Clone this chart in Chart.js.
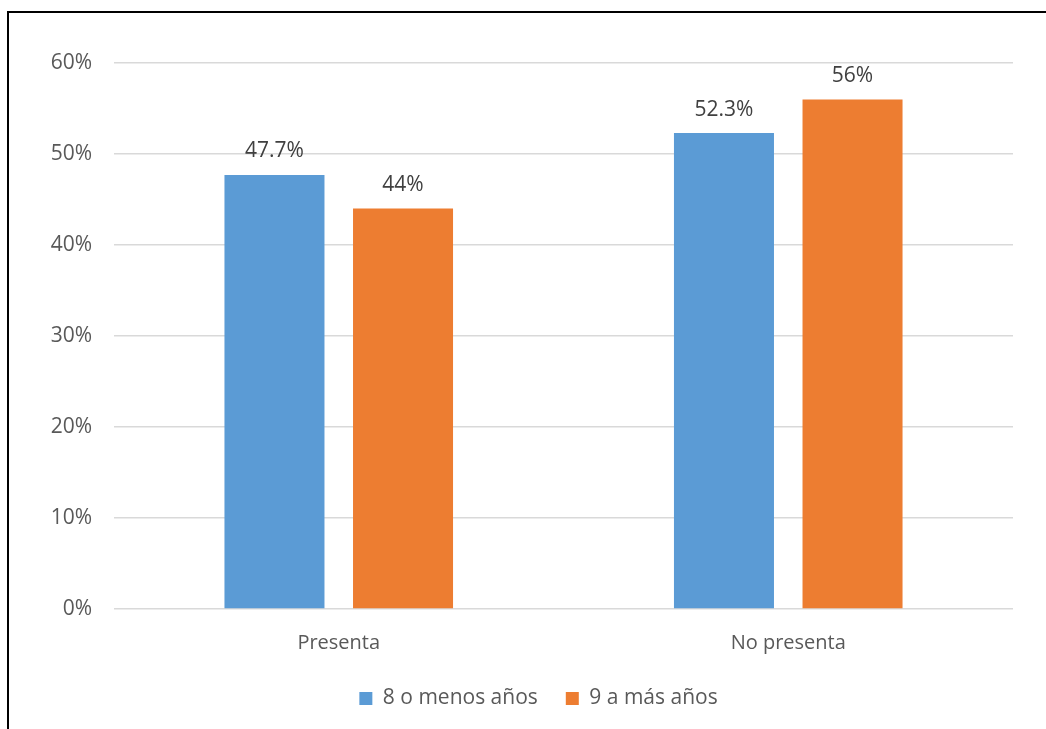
<!DOCTYPE html>
<html>
<head>
<meta charset="utf-8">
<script src="https://cdn.jsdelivr.net/npm/chart.js@4/dist/chart.umd.min.js"></script>
<style>
  html, body { margin: 0; padding: 0; background: #fff; }
  #wrap { position: relative; width: 1046px; height: 729px; overflow: hidden; }
  #frame { position: absolute; left: 7px; top: 11px; width: 1100px; height: 800px;
           border-left: 2px solid #000; border-top: 2px solid #000; }
  canvas { position: absolute; left: 0; top: 0; }
</style>
</head>
<body>
<div id="wrap">
  <div id="frame"></div>
  <canvas id="barChart" width="1046" height="729"></canvas>
</div>
<script>
const categories = ['Presenta', 'No presenta'];
const menos8 = [47.7, 52.3];
const mas9 = [44, 56];
const yTicks = [0, 10, 20, 30, 40, 50, 60];

const FONT = "'Open Sans', 'Noto Sans', sans-serif";

// value labels over each bar
const barLabels = {
    id: 'barLabels',
    afterDatasetsDraw(chart) {
        const ctx = chart.ctx;
        ctx.save();
        ctx.font = '21px ' + FONT;
        ctx.fillStyle = '#404040';
        ctx.textAlign = 'center';
        ctx.textBaseline = 'bottom';
        chart.data.datasets.forEach((ds, i) => {
            chart.getDatasetMeta(i).data.forEach((bar, j) => {
                ctx.fillText(ds.data[j] + '%', bar.x, bar.y - 13);
            });
        });
        ctx.restore();
    }
};

// centre the legend under the plot area instead of the whole canvas
const legendShift = {
    id: 'legendShift',
    afterLayout(chart) {
        if (chart.legend) {
            chart.legend.left += 25;
            chart.legend.right += 25;
        }
    }
};

const barCtx = document.getElementById('barChart').getContext('2d');
new Chart(barCtx, {
    type: 'bar',
    data: {
        labels: categories,
        datasets: [{
            label: '8 o menos años',
            data: menos8,
            backgroundColor: '#5b9bd5',
        }, {
            label: '9 a más años',
            data: mas9,
            backgroundColor: '#ed7d31',
        }]
    },
    options: {
        responsive: false,
        animation: false,
        layout: { padding: { left: 14, right: 33, top: 63, bottom: 10 } },
        datasets: {
            bar: { categoryPercentage: 0.572, barPercentage: 0.778 }
        },
        scales: {
            x: {
                afterFit: (s) => { s.height -= 9; },
                grid: { display: false },
                border: { display: false },
                ticks: { color: '#595959', font: { family: FONT, size: 20 }, padding: 14 }
            },
            y: {
                min: 0,
                max: 60,
                afterFit: (s) => { s.width = 100; },
                afterBuildTicks: (s) => { s.ticks = yTicks.map(v => ({ value: v })); },
                grid: { color: '#d9d9d9', lineWidth: 1.5, drawTicks: false },
                border: { display: false },
                ticks: {
                    color: '#595959',
                    font: { family: FONT, size: 21 },
                    padding: 22,
                    callback: (v) => v + '%'
                }
            }
        },
        plugins: {
            tooltip: { enabled: false },
            legend: {
                position: 'bottom',
                labels: {
                    color: '#595959',
                    font: { family: FONT, size: 21 },
                    boxWidth: 13,
                    boxHeight: 13,
                    padding: 28
                }
            }
        }
    },
    plugins: [barLabels, legendShift]
});
</script>
</body>
</html>
